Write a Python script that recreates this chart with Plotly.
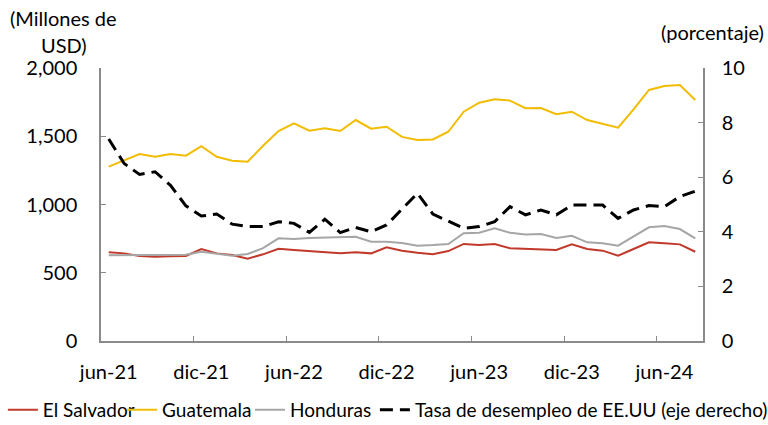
import plotly.graph_objects as go

months = ["jun-21","jul-21","ago-21","sep-21","oct-21","nov-21","dic-21",
          "ene-22","feb-22","mar-22","abr-22","may-22","jun-22","jul-22","ago-22","sep-22","oct-22","nov-22","dic-22",
          "ene-23","feb-23","mar-23","abr-23","may-23","jun-23","jul-23","ago-23","sep-23","oct-23","nov-23","dic-23",
          "ene-24","feb-24","mar-24","abr-24","may-24","jun-24","jul-24","ago-24"]

el_salvador = [650,642,623,618,620,623,674,642,630,603,
               635,676,667,659,647,642,650,642,686,662,
               647,635,659,711,703,711,679,676,674,667,
               708,674,662,625,674,723,716,708,654]
guatemala = [1277,1326,1370,1350,1370,1358,1428,1350,1321,1314,
             1430,1538,1595,1541,1558,1538,1619,1555,1570,1495,
             1473,1477,1533,1680,1746,1771,1761,1705,1707,1662,
             1680,1619,1590,1563,1697,1839,1868,1875,1766]
honduras = [628,628,628,630,630,632,654,640,625,637,
            680,752,747,755,757,757,764,728,728,718,
            698,703,711,789,793,825,793,781,784,755,
            771,723,716,698,764,833,842,820,752]
desempleo = [7.4,6.5,6.1,6.2,5.7,4.95,4.58,4.65,4.28,4.19,
             4.19,4.37,4.31,3.98,4.46,3.97,4.16,4.0,4.25,4.85,
             5.41,4.65,4.40,4.13,4.19,4.37,4.92,4.62,4.80,4.62,
             4.98,4.98,4.98,4.49,4.8,4.96,4.92,5.29,5.49]

names = ["El Salvador", "Guatemala", "Honduras", "Tasa de desempleo de EE.UU (eje derecho)"]

FONT = "Lato"
FS = 20
LFS = 19

fig = go.Figure()
fig.add_trace(go.Scatter(x=months, y=el_salvador, name=names[0], mode="lines", showlegend=True,
                         line=dict(color="#C0392B", width=2), legend="legend"))
fig.add_trace(go.Scatter(x=months, y=guatemala, name=names[1], mode="lines", showlegend=True,
                         line=dict(color="#F2BC00", width=2), legend="legend2"))
fig.add_trace(go.Scatter(x=months, y=honduras, name=names[2], mode="lines", showlegend=True,
                         line=dict(color="#A6A6A6", width=2), legend="legend3"))
fig.add_trace(go.Scatter(x=months, y=desempleo, name=names[3], mode="lines", yaxis="y2", showlegend=True,
                         line=dict(color="black", width=3, dash="13px,7px"), legend="legend4"))

axis_line = "#8A8A8A"
legend_common = dict(orientation="h", yanchor="middle", y=-0.252, xanchor="left",
                     font=dict(family=FONT, size=LFS, color="black"),
                     bgcolor="rgba(0,0,0,0)", borderwidth=0, itemwidth=30)

fig.update_layout(
    template="none",
    showlegend=True,
    width=768, height=425,
    margin=dict(l=101, r=65, t=68, b=84, autoexpand=False),
    paper_bgcolor="white", plot_bgcolor="white",
    font=dict(family=FONT, size=FS, color="black"),
    xaxis=dict(type="category", range=[-0.5, 38.5], dtick=6, tickson="boundaries",
               tickangle=0, automargin=False,
               ticks="inside", ticklen=5, tickcolor=axis_line, tickwidth=1,
               showline=True, linecolor=axis_line, linewidth=1.5,
               showgrid=False, zeroline=False, ticklabelstandoff=12),
    yaxis=dict(range=[0, 2000], dtick=500, tickformat=",", ticks="inside", ticklen=5,
               automargin=False,
               tickcolor=axis_line, showline=True, linecolor=axis_line, linewidth=1.5,
               showgrid=False, zeroline=False, ticklabelstandoff=18),
    yaxis2=dict(range=[0, 10], dtick=2, overlaying="y", side="right", ticks="inside", ticklen=5,
                automargin=False,
                tickcolor=axis_line, showline=True, linecolor=axis_line, linewidth=1.5,
                showgrid=False, zeroline=False, ticklabelstandoff=13),
    legend=dict(x=-0.163, **legend_common),
    legend2=dict(x=0.035, **legend_common),
    legend3=dict(x=0.2475, **legend_common),
    legend4=dict(x=0.455, **legend_common),
    annotations=[
        dict(text="(Millones de", x=-0.0615, y=1.183, xref="paper", yref="paper",
             xanchor="center", yanchor="middle", showarrow=False, font=dict(family=FONT, size=FS)),
        dict(text="USD)", x=-0.0615, y=1.084, xref="paper", yref="paper",
             xanchor="center", yanchor="middle", showarrow=False, font=dict(family=FONT, size=FS)),
        dict(text="(porcentaje)", x=1.015, y=1.132, xref="paper", yref="paper",
             xanchor="center", yanchor="middle", showarrow=False, font=dict(family=FONT, size=FS)),
    ],
)

fig.write_html("out.html")
